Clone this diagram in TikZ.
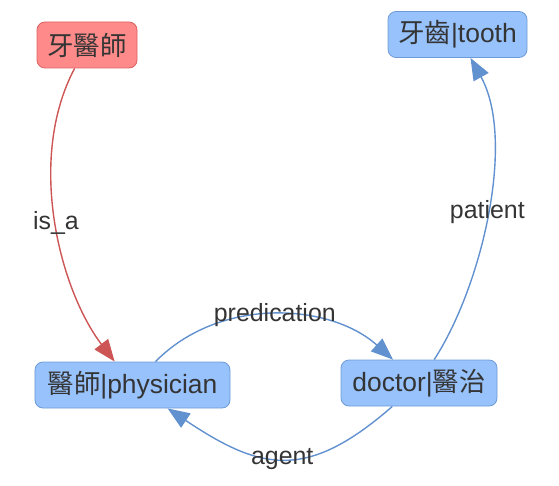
\documentclass[tikz,border=0pt]{standalone}
\usepackage{fontspec}
\setmainfont{Liberation Sans}
\newfontfamily\cjk{Noto Sans CJK TC}
\usetikzlibrary{arrows.meta}
\definecolor{bluefill}{RGB}{151,194,252}
\definecolor{blueline}{RGB}{110,155,215}
\definecolor{redfill}{RGB}{255,138,138}
\definecolor{redline}{RGB}{222,96,96}
\definecolor{blueedge}{RGB}{98,145,208}
\definecolor{rededge}{RGB}{205,85,85}
\definecolor{txt}{RGB}{52,52,52}

\begin{document}
\begin{tikzpicture}[x=1bp,y=-1bp,
  box/.style={draw=blueline,fill=bluefill,rounded corners=8bp,line width=0.8bp,
    minimum height=46bp,inner sep=0pt,text=txt,font=\fontsize{26.5}{30}\selectfont},
  redbox/.style={box,draw=redline,fill=redfill},
  link/.style={draw=blueedge,line width=1.4bp,-{Triangle[length=22bp,width=17bp]}},
  redlink/.style={link,draw=rededge},
  lbl/.style={text=txt,font=\fontsize{25}{28}\selectfont}]
  \useasboundingbox (0,0) rectangle (559,486);
  % nodes
  \node[redbox,minimum width=100bp] (yayishi) at (87,45) {\cjk 牙醫師};
  \node[box,minimum width=139bp] (tooth) at (457.5,34.5) {{\cjk 牙齒}|tooth};
  \node[box,minimum width=195bp] (physician) at (132.5,385) {{\cjk 醫師}|physician};
  \node[box,minimum width=156bp] (doctor) at (419,383) {doctor|{\cjk 醫治}};
  % links
  \draw[redlink] (yayishi) .. controls (26,160) and (60,290) .. (physician)
    node[lbl,pos=0.5] {is\_a};
  \draw[link] (physician) .. controls (220,296) and (330,303) .. (doctor)
    node[lbl,pos=0.5] {predication};
  \draw[link] (doctor) .. controls (482,286) and (516,140) .. (tooth)
    node[lbl,pos=0.5] {patient};
  \draw[link] (doctor) .. controls (306,482) and (260,470) .. (physician)
    node[lbl,pos=0.5] {agent};
\end{tikzpicture}
\end{document}
